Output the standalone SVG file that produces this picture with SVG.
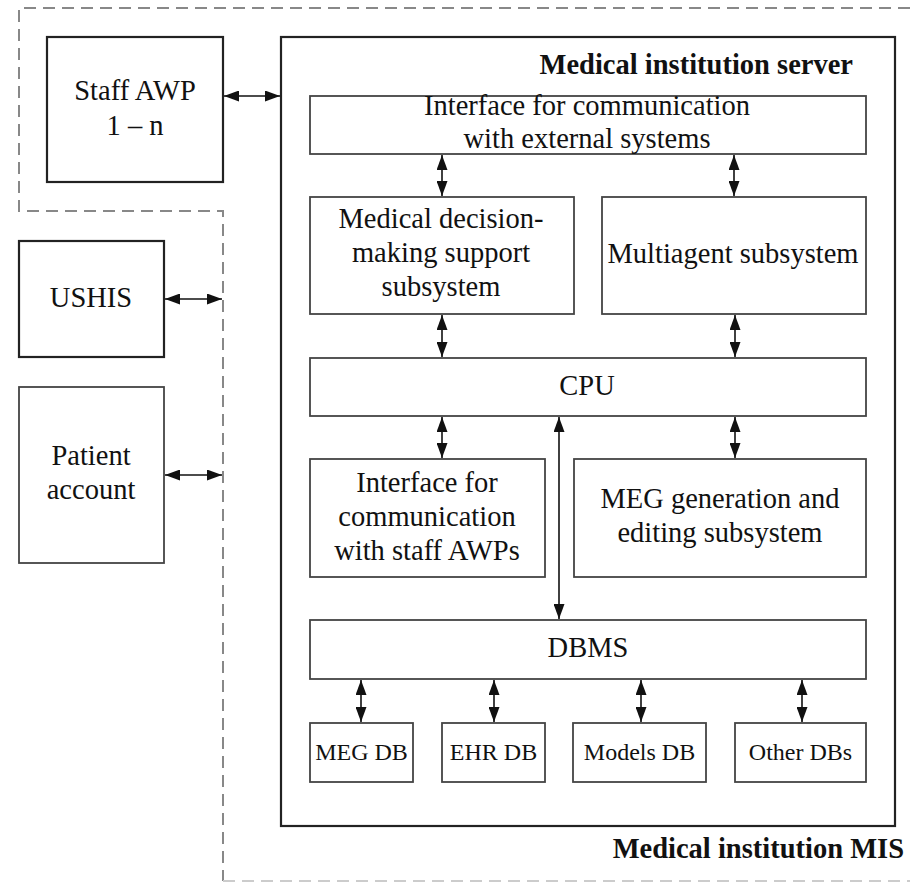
<svg xmlns="http://www.w3.org/2000/svg" width="910" height="882" viewBox="0 0 910 882">
<defs>
<marker id="ah" viewBox="0 0 15 11" refX="15" refY="5.5" markerWidth="15" markerHeight="11" markerUnits="userSpaceOnUse" orient="auto-start-reverse">
<path d="M0,0 L15,5.5 L0,11 z" fill="#111"/>
</marker>
<style>
.bx{fill:#fff;stroke:#444;stroke-width:1.8}
.bo{fill:#fff;stroke:#222;stroke-width:2.2}
.t{font-family:"Liberation Serif","Times New Roman",serif;font-size:28.5px;fill:#111;text-anchor:middle}
.s{font-family:"Liberation Serif","Times New Roman",serif;font-size:24px;fill:#111;text-anchor:middle}
.b{font-family:"Liberation Serif","Times New Roman",serif;font-size:28.5px;font-weight:bold;fill:#111;text-anchor:end}
.c{stroke:#111;stroke-width:1.6;fill:none;marker-start:url(#ah);marker-end:url(#ah)}
.d{fill:none;stroke:#888;stroke-width:2;stroke-dasharray:12 7}
</style>
</defs>
<rect width="910" height="882" fill="#fff"/>
<g id="mis-boundary">
<path class="d" d="M910,8 H19 V211 H223 V881"/>
<path d="M223,881 H910" fill="none" stroke="#ccc" stroke-width="2" stroke-dasharray="12 7"/>
<text class="b" x="904" y="858">Medical institution MIS</text>
</g>
<g id="server">
<rect class="bo" x="281" y="37" width="614" height="789"/>
<text class="b" x="853" y="74">Medical institution server</text>
</g>
<g id="staff-awp">
<rect class="bo" x="47" y="37" width="176" height="145"/>
<text class="t" x="135" y="100">Staff AWP</text>
<text class="t" x="135" y="135">1 – n</text>
</g>
<g id="ushis">
<rect class="bo" x="19" y="241" width="145" height="116"/>
<text class="t" x="91" y="307">USHIS</text>
</g>
<g id="patient-account">
<rect class="bx" x="19" y="387" width="145" height="176"/>
<text class="t" x="91" y="465">Patient</text>
<text class="t" x="91" y="499">account</text>
</g>
<g id="interface-external">
<rect class="bx" x="310" y="96" width="556" height="58"/>
<text class="t" x="587" y="115">Interface for communication</text>
<text class="t" x="587" y="148">with external systems</text>
</g>
<g id="decision-support">
<rect class="bx" x="310" y="197" width="264" height="117"/>
<text class="t" x="441" y="228">Medical decision-</text>
<text class="t" x="441" y="262">making support</text>
<text class="t" x="441" y="296">subsystem</text>
</g>
<g id="multiagent">
<rect class="bx" x="602" y="197" width="264" height="117"/>
<text class="t" x="733" y="263">Multiagent subsystem</text>
</g>
<g id="cpu">
<rect class="bx" x="310" y="358" width="556" height="58"/>
<text class="t" x="587" y="395">CPU</text>
</g>
<g id="interface-staff">
<rect class="bx" x="310" y="459" width="235" height="118"/>
<text class="t" x="427" y="492">Interface for</text>
<text class="t" x="427" y="526">communication</text>
<text class="t" x="427" y="560">with staff AWPs</text>
</g>
<g id="meg-subsystem">
<rect class="bx" x="574" y="459" width="292" height="118"/>
<text class="t" x="720" y="508">MEG generation and</text>
<text class="t" x="720" y="542">editing subsystem</text>
</g>
<g id="dbms">
<rect class="bx" x="310" y="620" width="556" height="59"/>
<text class="t" x="588" y="657">DBMS</text>
</g>
<g id="meg-db">
<rect class="bx" x="310" y="723" width="103" height="59"/>
<text class="s" x="361.5" y="760">MEG DB</text>
</g>
<g id="ehr-db">
<rect class="bx" x="442" y="723" width="103" height="59"/>
<text class="s" x="493.5" y="760">EHR DB</text>
</g>
<g id="models-db">
<rect class="bx" x="573" y="723" width="133" height="59"/>
<text class="s" x="639.5" y="760">Models DB</text>
</g>
<g id="other-dbs">
<rect class="bx" x="735" y="723" width="131" height="59"/>
<text class="s" x="800.5" y="760">Other DBs</text>
</g>
<g id="connectors">
<line class="c" x1="224" y1="96" x2="280" y2="96"/>
<line class="c" x1="165" y1="299" x2="222" y2="299"/>
<line class="c" x1="165" y1="475" x2="222" y2="475"/>
<line class="c" x1="442" y1="155" x2="442" y2="196"/>
<line class="c" x1="734" y1="155" x2="734" y2="196"/>
<line class="c" x1="442" y1="315" x2="442" y2="357"/>
<line class="c" x1="735" y1="315" x2="735" y2="357"/>
<line class="c" x1="442" y1="417" x2="442" y2="458"/>
<line class="c" x1="735" y1="417" x2="735" y2="458"/>
<line class="c" x1="559" y1="417" x2="559" y2="619"/>
<line class="c" x1="361" y1="680" x2="361" y2="722"/>
<line class="c" x1="494" y1="680" x2="494" y2="722"/>
<line class="c" x1="641" y1="680" x2="641" y2="722"/>
<line class="c" x1="802" y1="680" x2="802" y2="722"/>
</g>
</svg>
